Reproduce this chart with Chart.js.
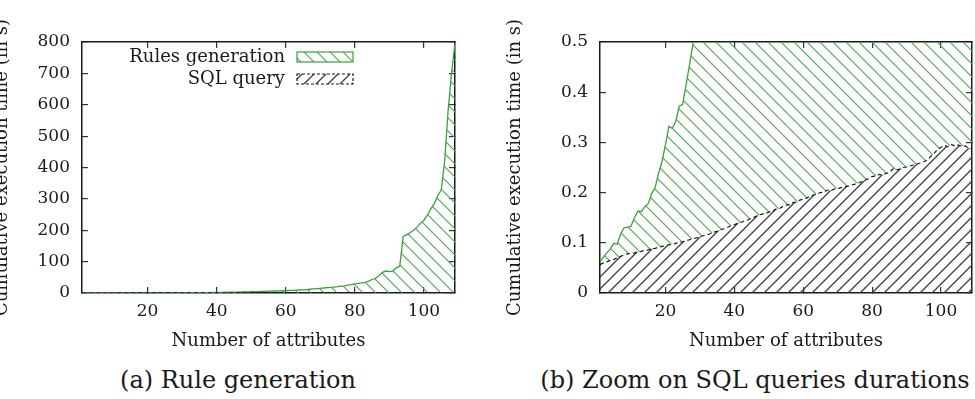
<!DOCTYPE html>
<html lang="en">
<head>
<meta charset="UTF-8">
<title>cumulative execution time</title>
<script src="https://cdn.jsdelivr.net/npm/chart.js"></script>
<style>
  body { margin:0; background:#fff; width:975px; height:399px; overflow:hidden; position:relative;
         font-family:"DejaVu Serif", serif; color:#1a1a1a; }
  .box { position:absolute; top:0; height:360px; }
  #boxA { left:-8px; width:475px; }
  #boxB { left:505px; width:470px; }
  .caption { position:absolute; top:366px; font-size:24px; line-height:28px; white-space:nowrap; transform:translateX(-50%); }
</style>
</head>
<body>
<div class="box" id="boxA"><canvas id="chartA"></canvas></div>
<div class="box" id="boxB"><canvas id="chartB"></canvas></div>
<div class="caption" style="left:238px">(a) Rule generation</div>
<div class="caption" style="left:755px">(b) Zoom on SQL queries durations</div>

<script>
// number of attributes
const attributes = [1,2,3,4,5,6,7,8,9,10,11,12,13,14,15,16,17,18,19,20,
  21,22,23,24,25,26,27,28,29,30,31,32,33,34,35,36,37,38,39,40,
  41,42,43,44,45,46,47,48,49,50,51,52,53,54,55,56,57,58,59,60,
  61,62,63,64,65,66,67,68,69,70,71,72,73,74,75,76,77,78,79,80,
  81,82,83,84,85,86,87,88,89,90,91,92,93,94,95,96,97,98,99,100,
  101,102,103,104,105,106,107,108,109];

// cumulative time (s), rules generation
const rulesTime = [0.062,0.072,0.080,0.088,0.099,0.097,0.118,0.130,0.131,0.133,
  0.150,0.163,0.162,0.172,0.178,0.198,0.210,0.238,0.262,0.295,
  0.332,0.328,0.342,0.372,0.376,0.415,0.455,0.497,0.55,0.62,
  0.70,0.80,0.90,1.0,1.1,1.2,1.4,1.5,1.7,1.9,
  2.1,2.3,2.5,2.7,2.9,3.1,3.3,3.5,3.8,4.0,
  4.3,4.6,5.0,5.3,5.7,6.0,6.4,6.8,7.2,7.6,
  8.0,8.5,9.0,9.5,10,11,12,13,14,15,
  16,17,18,19,20,22,23,25,27,29,
  31,32,34,38,43,47,55,66,70,68,
  70,80,85,180,186,192,200,210,222,232,
  248,268,285,310,328,420,580,700,795];

// cumulative time (s), SQL query
const sqlTime = [0.057,0.060,0.062,0.065,0.067,0.070,0.073,0.076,0.078,0.079,
  0.080,0.082,0.083,0.085,0.086,0.088,0.089,0.091,0.093,0.094,
  0.096,0.097,0.099,0.101,0.102,0.104,0.106,0.108,0.110,0.112,
  0.114,0.116,0.118,0.121,0.123,0.126,0.128,0.131,0.134,0.136,
  0.139,0.141,0.144,0.146,0.149,0.152,0.155,0.157,0.158,0.161,
  0.163,0.167,0.168,0.172,0.175,0.176,0.180,0.181,0.185,0.187,
  0.189,0.193,0.195,0.198,0.200,0.201,0.205,0.204,0.207,0.208,
  0.210,0.211,0.213,0.215,0.217,0.219,0.222,0.225,0.228,0.232,
  0.233,0.236,0.235,0.238,0.240,0.247,0.245,0.247,0.250,0.251,
  0.253,0.255,0.257,0.259,0.262,0.264,0.272,0.278,0.286,0.290,
  0.294,0.291,0.296,0.293,0.295,0.292,0.293,0.289,0.287];

const xTicks = [20, 40, 60, 80, 100];
const yTicksA = [0, 100, 200, 300, 400, 500, 600, 700, 800];
const yTicksB = [0, 0.1, 0.2, 0.3, 0.4, 0.5];

const ink = '#1a1a1a';
const green = 'rgb(60,160,60)';

function hatch(color, dir, size, lw) {
  const c = document.createElement('canvas');
  c.width = size; c.height = size;
  const g = c.getContext('2d');
  g.strokeStyle = color;
  g.lineWidth = lw;
  g.beginPath();
  if (dir === '\\') {
    g.moveTo(-1, -1); g.lineTo(size + 1, size + 1);
    g.moveTo(size - 1, -1); g.lineTo(size + 1, 1);
    g.moveTo(-1, size - 1); g.lineTo(1, size + 1);
  } else {
    g.moveTo(-1, size + 1); g.lineTo(size + 1, -1);
    g.moveTo(-1, 1); g.lineTo(1, -1);
    g.moveTo(size - 1, size + 1); g.lineTo(size + 1, size - 1);
  }
  g.stroke();
  return g.createPattern(c, 'repeat');
}

const greenHatch = hatch('rgb(80,170,80)', '\\', 13, 1.2);
const darkHatch = hatch('rgb(60,60,60)', '/', 12, 1.3);

function pts(ys) {
  return attributes.map((x, i) => ({x: x, y: ys[i]}));
}

const tickFont = {family: 'DejaVu Serif', size: 17};
const titleFont = {family: 'DejaVu Serif', size: 18};

function axes(yMax, yTicks, yWidth) {
  // gnuplot style: tick marks point into the plot, mirrored on top and right
  const grid = {drawOnChartArea: false, drawTicks: true, tickLength: -6, color: '#333', lineWidth: 1.2};
  const border = {display: true, color: ink, width: 1.5};
  const setX = s => { s.ticks = xTicks.map(v => ({value: v})); };
  const setY = s => { s.ticks = yTicks.map(v => ({value: v})); };
  return {
    x: {
      type: 'linear', position: 'bottom', min: 1, max: 109,
      afterBuildTicks: setX, afterFit: s => { s.height = 67; },
      grid: grid, border: border,
      ticks: {font: tickFont, color: ink, padding: 14, maxRotation: 0, callback: v => String(v)},
      title: {display: true, text: 'Number of attributes', font: titleFont, color: ink, padding: {top: 0, bottom: 8}}
    },
    x2: {
      type: 'linear', position: 'top', min: 1, max: 109,
      afterBuildTicks: setX, afterFit: s => { s.height = 0; },
      grid: grid, border: border, ticks: {display: false}
    },
    y: {
      type: 'linear', position: 'left', min: 0, max: yMax,
      afterBuildTicks: setY, afterFit: s => { s.width = yWidth; },
      grid: grid, border: border,
      ticks: {font: tickFont, color: ink, padding: 18, callback: v => String(v)},
      title: {display: true, text: 'Cumulative execution time (in s)', font: titleFont, color: ink, padding: 0}
    },
    y2: {
      type: 'linear', position: 'right', min: 0, max: yMax,
      afterBuildTicks: setY, afterFit: s => { s.width = 0; },
      grid: grid, border: border, ticks: {display: false}
    }
  };
}

function datasets() {
  return [{
    label: 'SQL query',
    data: pts(sqlTime),
    borderColor: ink, borderWidth: 1.2, borderDash: [4, 3],
    backgroundColor: darkHatch, fill: 'origin',
    pointRadius: 0, tension: 0
  }, {
    label: 'Rules generation',
    data: pts(rulesTime),
    borderColor: green, borderWidth: 1.3,
    backgroundColor: greenHatch, fill: '-1',
    pointRadius: 0, tension: 0
  }];
}

// gnuplot style key: text on the left, sample box on the right
const keyPlugin = {
  id: 'key',
  afterDraw(chart) {
    const {ctx, chartArea} = chart;
    const textRight = chartArea.right - 170;
    const boxLeft = chartArea.right - 158, w = 56, h = 10;
    const rows = [
      {text: 'Rules generation', y: 57, fill: greenHatch, stroke: green, dash: []},
      {text: 'SQL query', y: 79, fill: darkHatch, stroke: ink, dash: [3, 2]}
    ];
    ctx.save();
    ctx.font = '18px "DejaVu Serif"';
    ctx.textAlign = 'right';
    ctx.textBaseline = 'middle';
    rows.forEach(r => {
      ctx.fillStyle = ink;
      ctx.fillText(r.text, textRight, r.y);
      ctx.fillStyle = r.fill;
      ctx.fillRect(boxLeft, r.y - h / 2, w, h);
      ctx.setLineDash(r.dash);
      ctx.strokeStyle = r.stroke;
      ctx.lineWidth = 1.2;
      ctx.strokeRect(boxLeft, r.y - h / 2, w, h);
      ctx.setLineDash([]);
    });
    ctx.restore();
  }
};

const common = {
  responsive: true,
  maintainAspectRatio: false,
  animation: false,
  plugins: {legend: {display: false}, tooltip: {enabled: false}}
};

new Chart(document.getElementById('chartA'), {
  type: 'line',
  data: {datasets: datasets()},
  options: Object.assign({}, common, {
    layout: {padding: {top: 42, right: 12, bottom: 0, left: 0}},
    scales: axes(800, yTicksA, 90)
  }),
  plugins: [keyPlugin]
});

new Chart(document.getElementById('chartB'), {
  type: 'line',
  data: {datasets: datasets()},
  options: Object.assign({}, common, {
    layout: {padding: {top: 42, right: 3, bottom: 0, left: 0}},
    scales: axes(0.5, yTicksB, 95)
  })
});
</script>
</body>
</html>
